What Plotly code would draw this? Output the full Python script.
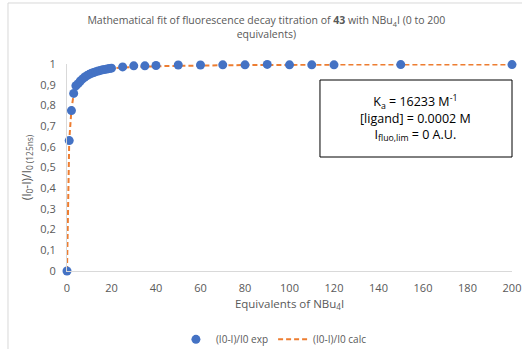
import plotly.graph_objects as go

equivalents = [0, 1, 2, 3, 4, 5, 6, 7, 8, 9, 10, 11, 12, 13, 14, 15, 16, 17, 18, 19, 20,
               25, 30, 35, 40, 50, 60, 70, 80, 90, 100, 110, 120, 150, 200]
exp_vals = [0.0, 0.63, 0.775, 0.858, 0.895, 0.905, 0.918, 0.928, 0.937, 0.944, 0.950, 0.955,
            0.959, 0.963, 0.966, 0.969, 0.972, 0.974, 0.976, 0.978, 0.980,
            0.986, 0.991, 0.991, 0.993, 0.995, 0.995, 0.996, 0.996, 0.998, 0.996, 0.996, 0.996, 0.997, 0.997]
calc_vals = [0.0, 0.63, 0.78, 0.855, 0.89, 0.91, 0.925, 0.935, 0.943, 0.949, 0.954, 0.958,
             0.962, 0.965, 0.968, 0.970, 0.972, 0.974, 0.976, 0.977, 0.979,
             0.983, 0.986, 0.988, 0.989, 0.991, 0.993, 0.994, 0.995, 0.995, 0.996, 0.996, 0.997, 0.997, 0.998]

x_ticks = list(range(0, 201, 20))
y_ticks = [i / 10 for i in range(11)]

gray = "#595959"
font_family = "Open Sans, Segoe UI, sans-serif"

fig = go.Figure()
fig.add_trace(go.Scatter(
    x=equivalents, y=calc_vals, mode="lines", name="(I0-I)/I0 calc",
    line=dict(color="#ED7D31", width=2, dash="5px,3px"), cliponaxis=False))
fig.add_trace(go.Scatter(
    x=equivalents, y=exp_vals, mode="markers", name="(I0-I)/I0 exp",
    marker=dict(color="#4472C4", size=9), cliponaxis=False))

fig.update_layout(
    width=522, height=349,
    margin=dict(l=67, r=10, t=64, b=78, autoexpand=False),
    paper_bgcolor="white", plot_bgcolor="white",
    separators=", ",
    font=dict(family=font_family, color=gray, size=11),
    title=dict(
        text="Mathematical fit of fluorescence decay titration of <b>43</b> with NBu<sub>4</sub>I (0 to 200<br>equivalents)",
        xref="paper", x=0.448, xanchor="center", y=0.93, yanchor="top",
        font=dict(size=10.5, color=gray, family=font_family)),
    xaxis=dict(range=[0, 200], tickvals=x_ticks, showgrid=False, zeroline=False,
               showline=True, linecolor="#D9D9D9", linewidth=1, automargin=False,
               ticks="outside", ticklen=7, tickcolor="rgba(0,0,0,0)",
               tickfont=dict(size=11, color=gray),
               title=dict(text="Equivalents of NBu<sub>4</sub>I", font=dict(size=11.5, color=gray), standoff=5)),
    yaxis=dict(range=[0, 1], tickvals=y_ticks, showgrid=False, zeroline=False,
               showline=True, linecolor="#D9D9D9", linewidth=1, automargin=False,
               ticks="outside", ticklen=8, tickcolor="rgba(0,0,0,0)",
               tickfont=dict(size=11, color=gray),
               title=dict(text="(I<sub>0</sub>-I)/I<sub>0 (125ns)</sub>", font=dict(size=12, color=gray), standoff=6)),
    legend=dict(orientation="h", x=0.465, xanchor="center", y=-0.33, yanchor="middle",
                font=dict(size=10, color=gray), traceorder="reversed"),
    showlegend=True,
)

# Text box
fig.add_shape(type="rect", xref="paper", yref="paper",
              x0=0.5685, x1=1.0, y0=0.5507, y1=0.9227,
              line=dict(color="black", width=1), fillcolor="white", layer="above")
fig.add_annotation(
    xref="paper", yref="paper", x=0.784, y=0.737, xanchor="center", yanchor="middle",
    text="K<sub>a</sub> = 16233 M<sup>-1</sup><br>[ligand] = 0.0002 M<br>I<sub>fluo,lim</sub> = 0 A.U.",
    showarrow=False, align="center", font=dict(size=12.5, color="black", family=font_family))

# Chart area border
fig.add_shape(type="rect", xref="paper", yref="paper",
              x0=-0.1326, x1=1.05, y0=-0.4, y1=1.2947,
              line=dict(color="#D9D9D9", width=1), layer="below")

fig.write_html("out.html", config={"displayModeBar": False},
               post_script="document.body.style.margin='0px';")
